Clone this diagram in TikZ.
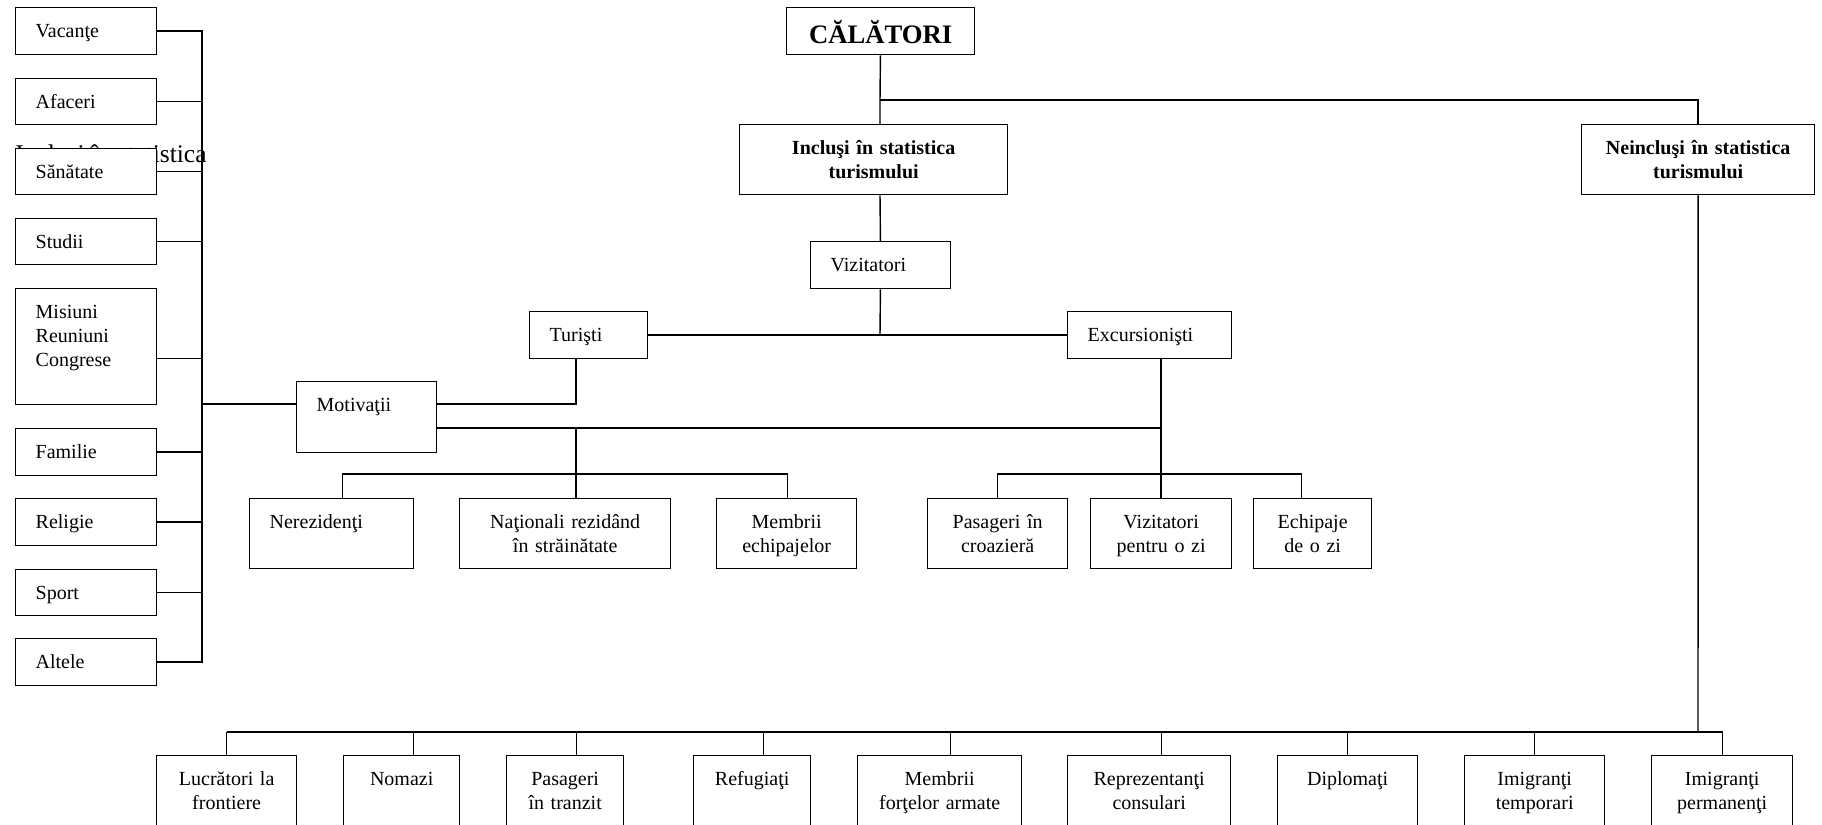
\documentclass[tikz,border=0pt]{standalone}
\usepackage{fontspec}
\setmainfont{Liberation Serif}
\usepackage{tikz}

\tikzset{
  cell/.style={draw, fill=white, line width=0.8pt, anchor=north west,
    inner xsep=0pt, inner ysep=0pt, text height=18pt, align=center,
    font=\fontsize{12pt}{14.4pt}\selectfont},
  lcell/.style={cell, inner xsep=12pt, align=left},
  dims/.style 2 args={text width=#1*0.6pt, text depth=#2*0.6pt-18pt},
  ldims/.style 2 args={text width=#1*0.6pt-24pt, text depth=#2*0.6pt-18pt},
  boldcell/.style={font=\fontsize{12pt}{14.4pt}\selectfont\bfseries},
  wire/.style={line width=0.85pt},
}

\begin{document}
\begin{tikzpicture}[x=0.6pt, y=-0.6pt]
                        \useasboundingbox (0, 0) rectangle (1822, 824);

                        \node (ghost) at (15, 162) [anchor=base west, inner sep=0pt, font=\fontsize{15.3pt}{18pt}\selectfont] {Incluşi în statistica};

                        % junctions
                        \coordinate (jtop) at (880, 100);
                        \coordinate (jvis) at (880, 334);
                        \coordinate (jtur) at (576, 404);
                        \coordinate (jmot) at (576, 428);
                        \coordinate (jexc) at (1161, 428);
                        \coordinate (btur) at (576, 474);
                        \coordinate (bexc) at (1161, 474);
                        \coordinate (jleft) at (202, 404);
                        \coordinate (bneinc) at (1698, 732);

                        % top of the tree
                        \node (calatori) at (786, 7) [cell, dims={188}{47}, text height=21.6pt, text depth=6.6pt, font=\fontsize{16pt}{19pt}\selectfont\bfseries] {CĂLĂTORI};
                        \node (inclusi) at (739, 124) [cell, boldcell, dims={268}{70}] {Incluşi în statistica\\turismului};
                        \node (neinclusi) at (1581, 124) [cell, boldcell, dims={233}{70}] {Neincluşi în statistica\\turismului};
                        \node (vizitatori) at (810, 241) [lcell, ldims={140}{47}] {Vizitatori};
                        \node (turisti) at (529, 311) [lcell, ldims={118}{47}] {Turişti};
                        \node (excursionisti) at (1067, 311) [lcell, ldims={164}{47}] {Excursionişti};
                        \node (motivatii) at (296, 381) [lcell, ldims={140}{71}] {Motivaţii};

                        % motivations
                        \node (vacante) at (15, 7) [lcell, ldims={141}{47}] {Vacanţe};
                        \node (afaceri) at (15, 78) [lcell, ldims={141}{46}] {Afaceri};
                        \node (sanatate) at (15, 148) [lcell, ldims={141}{46}] {Sănătate};
                        \node (studii) at (15, 218) [lcell, ldims={141}{46}] {Studii};
                        \node (misiuni) at (15, 288) [lcell, ldims={141}{116}] {Misiuni\\Reuniuni\\Congrese};
                        \node (familie) at (15, 428) [lcell, ldims={141}{47}] {Familie};
                        \node (religie) at (15, 498) [lcell, ldims={141}{47}] {Religie};
                        \node (sport) at (15, 569) [lcell, ldims={141}{46}] {Sport};
                        \node (altele) at (15, 638) [lcell, ldims={141}{47}] {Altele};

                        % tourists and excursionists
                        \node (nerezidenti) at (249, 498) [lcell, ldims={164}{70}] {Nerezidenţi};
                        \node (nationali) at (459, 498) [cell, dims={211}{70}] {Naţionali rezidând\\în străinătate};
                        \node (echipajelor) at (716, 498) [cell, dims={140}{70}] {Membrii\\echipajelor};
                        \node (croaziera) at (927, 498) [cell, dims={140}{70}] {Pasageri în\\croazieră};
                        \node (vizzi) at (1090, 498) [cell, dims={141}{70}] {Vizitatori\\pentru o zi};
                        \node (echzi) at (1253, 498) [cell, dims={118}{70}] {Echipaje\\de o zi};

                        % not included
                        \node (lucratori) at (156, 755) [cell, dims={140}{70}] {Lucrători la\\frontiere};
                        \node (nomazi) at (343, 755) [cell, dims={116}{70}] {Nomazi};
                        \node (tranzit) at (506, 755) [cell, dims={117}{70}] {Pasageri\\în tranzit};
                        \node (refugiati) at (693, 755) [cell, dims={117}{70}] {Refugiaţi};
                        \node (armata) at (857, 755) [cell, dims={164}{70}] {Membrii\\forţelor armate};
                        \node (consulari) at (1067, 755) [cell, dims={163}{70}] {Reprezentanţi\\consulari};
                        \node (diplomati) at (1277, 755) [cell, dims={140}{70}] {Diplomaţi};
                        \node (imtemp) at (1464, 755) [cell, dims={140}{70}] {Imigranţi\\temporari};
                        \node (imperm) at (1651, 755) [cell, dims={141}{70}] {Imigranţi\\permanenţi};

                        \draw[wire] (calatori) -- (jtop) -- (jtop |- inclusi.north);
                        \draw[wire] (jtop) -| (neinclusi);
                        \draw[wire] (inclusi.south -| jtop) -- (vizitatori);
                        \draw[wire] (vizitatori) -- (jvis);
                        \draw[wire] (turisti) -- (excursionisti);
                        \draw[wire] (turisti.south -| jtur) -- (jtur) -- (motivatii.east |- jtur);
                        \draw[wire] (motivatii.east |- jmot) -- (jexc);
                        \draw[wire] (excursionisti.south -| jexc) -- (bexc);
                        \draw[wire] (jmot) -- (btur);

                        \draw[wire] ([xshift=6.6pt]nerezidenti.north) |- (btur) -| ([xshift=0.6pt]echipajelor.north);
                        \draw[wire] (btur) -- (btur |- nationali.north);
                        \draw[wire] (croaziera) |- (bexc) -| ([xshift=-6.6pt]echzi.north);
                        \draw[wire] (bexc) -- (bexc |- vizzi.north);

                        \draw[wire] (vacante) -| (jleft) |- (altele);
                        \foreach \n in {afaceri, sanatate, studii, familie, religie, sport}
                            \draw[wire] (\n) -- (\n -| jleft);
                        \draw[wire] ([yshift=-7.2pt]misiuni.east) -- ([yshift=-7.2pt]misiuni.east -| jleft);
                        \draw[wire] (jleft) -- (motivatii.west |- jleft);

                        \draw[wire] (neinclusi) -- (bneinc);
                        \draw[wire] (lucratori.north |- bneinc) -- ([xshift=0.6pt]imperm.north |- bneinc);
                        \foreach \n/\s in {lucratori/0, nomazi/12, tranzit/11.5, refugiati/11.5, armata/11, consulari/12.5, diplomati/0, imtemp/0, imperm/0.5}
                            \draw[wire] ([xshift=\s*0.6pt]\n.north) -- ([xshift=\s*0.6pt]\n.north |- bneinc);
                    \end{tikzpicture}
\end{document}
